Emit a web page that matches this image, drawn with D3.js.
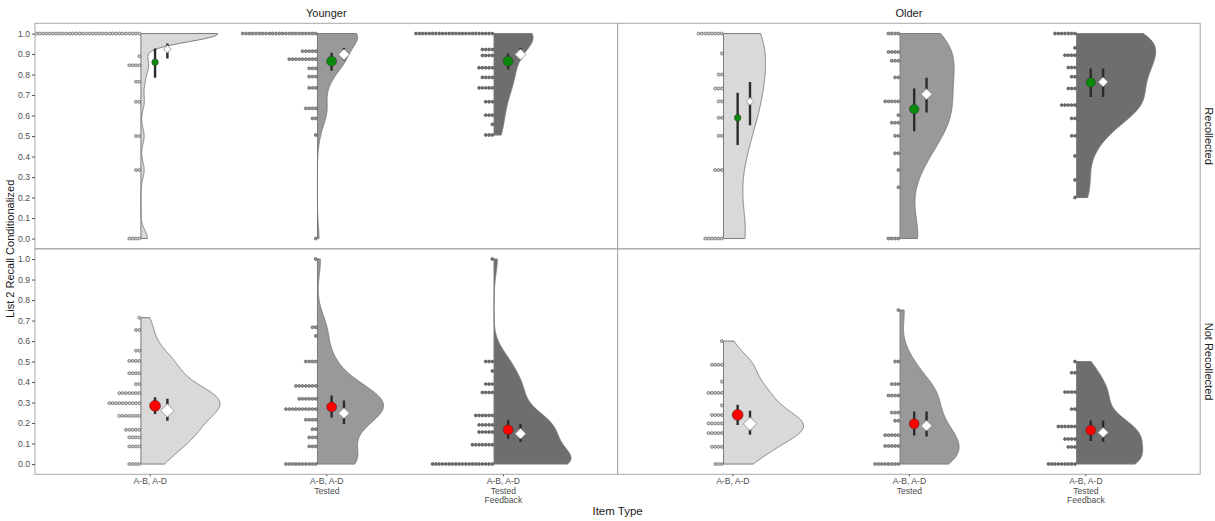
<!DOCTYPE html>
<html>
<head>
<meta charset="utf-8">
<script src="https://cdn.jsdelivr.net/npm/d3@7"></script>
<style>
  body { margin: 0; background: #fff; }
  svg { display: block; }
  text { font-family: "Liberation Sans", Arial, sans-serif; }
</style>
</head>
<body>
<svg id="chart" width="1215" height="521"></svg>
<script>
// ---- Facets and categories ----
const categories = ["A-B, A-D", "A-B, A-D\nTested", "A-B, A-D\nTested\nFeedback"];
const ageGroups = ["Younger", "Older"];
const recallStates = ["Recollected", "Not Recollected"];
const yTicks = [0, 0.1, 0.2, 0.3, 0.4, 0.5, 0.6, 0.7, 0.8, 0.9, 1.0];

// ---- Per-participant scores: [score, number of participants] ----
const youngerRecAB       = [[1.0, 48], [0.889, 1], [0.845, 4], [0.765, 2], [0.667, 2], [0.5, 2], [0.334, 2], [0, 4]];
const youngerRecTested   = [[1.0, 23], [0.914, 5], [0.875, 9], [0.83, 3], [0.79, 3], [0.735, 3], [0.635, 4], [0.586, 2], [0.505, 1], [0, 1]];
const youngerRecFeedback = [[1.0, 24], [0.922, 4], [0.893, 4], [0.833, 5], [0.786, 4], [0.735, 5], [0.667, 3], [0.602, 3], [0.557, 1], [0.505, 3]];

const olderRecAB         = [[1.0, 8], [0.903, 1], [0.8, 2], [0.732, 3], [0.669, 2], [0.589, 2], [0.501, 2], [0.334, 3], [0, 6]];
const olderRecTested     = [[1.0, 4], [0.91, 4], [0.867, 3], [0.786, 2], [0.669, 5], [0.602, 1], [0.565, 3], [0.501, 2], [0.416, 2], [0.334, 1], [0.25, 1], [0, 4]];
const olderRecFeedback   = [[1.0, 7], [0.93, 1], [0.894, 4], [0.834, 3], [0.789, 2], [0.732, 3], [0.651, 5], [0.586, 2], [0.501, 2], [0.403, 1], [0.286, 1], [0.2, 1]];

const youngerNotAB       = [[0.714, 1], [0.654, 2], [0.553, 2], [0.503, 4], [0.443, 4], [0.39, 2], [0.346, 7], [0.297, 10], [0.235, 7], [0.167, 5], [0.13, 4], [0.086, 4], [0, 4]];
const youngerNotTested   = [[1.0, 1], [0.667, 2], [0.625, 1], [0.5, 4], [0.381, 7], [0.318, 6], [0.268, 10], [0.216, 4], [0.17, 2], [0.13, 3], [0.086, 3], [0, 10]];
const youngerNotFeedback = [[1.0, 1], [0.5, 3], [0.454, 1], [0.39, 3], [0.349, 4], [0.237, 6], [0.191, 5], [0.156, 5], [0.094, 7], [0, 19]];

const olderNotAB         = [[0.6, 1], [0.484, 4], [0.402, 1], [0.347, 5], [0.286, 1], [0.239, 4], [0.198, 5], [0.151, 5], [0.084, 4], [0, 3]];
const olderNotTested     = [[0.751, 1], [0.5, 2], [0.39, 3], [0.334, 4], [0.251, 3], [0.211, 2], [0.141, 5], [0.088, 5], [0, 8]];
const olderNotFeedback   = [[0.5, 1], [0.445, 2], [0.351, 4], [0.268, 2], [0.183, 6], [0.122, 4], [0.083, 3], [0, 9]];

// ---- Condition means [estimate, lower, upper] (filled circles) ----
const youngerRecMean = [[0.86, 0.784, 0.927], [0.865, 0.818, 0.906], [0.865, 0.825, 0.903]];
const olderRecMean   = [[0.589, 0.456, 0.711], [0.631, 0.524, 0.732], [0.761, 0.691, 0.83]];
const youngerNotMean = [[0.284, 0.244, 0.326], [0.278, 0.227, 0.334], [0.167, 0.123, 0.216]];
const olderNotMean   = [[0.24, 0.191, 0.289], [0.196, 0.139, 0.256], [0.165, 0.113, 0.212]];

// ---- Model estimates [estimate, lower, upper] (white diamonds) ----
const youngerRecModel = [[0.924, 0.878, 0.951], [0.898, 0.87, 0.93], [0.898, 0.87, 0.93]];
const olderRecModel   = [[0.669, 0.553, 0.764], [0.704, 0.615, 0.784], [0.764, 0.69, 0.83]];
const youngerNotModel = [[0.261, 0.211, 0.318], [0.248, 0.195, 0.31], [0.148, 0.107, 0.195]];
const olderNotModel   = [[0.196, 0.143, 0.26], [0.187, 0.134, 0.256], [0.154, 0.107, 0.212]];

// ---- Styling ----
const fills = ["#d9d9d9", "#999999", "#6e6e6e"];
const meanColor = { "Recollected": "#0a8a0a", "Not Recollected": "#ff0000" };
const bwAdjust = [[1.25, 1, 1.15], [1, 1, 1], [1, 1, 1], [1, 1, 1]];
// widest point of each half-violin, as a fraction of the category step
const peakWidth = [[0.436, 0.227, 0.221], [0.238, 0.306, 0.448], [0.448, 0.374, 0.436], [0.453, 0.334, 0.374]];
const meanRadius  = [[3.3, 5, 5], [3.3, 4.8, 4.7], [5.5, 5, 5], [5.5, 5, 5]];
const modelRadius = [[3.9, 5.5, 5.5], [3.8, 5.4, 4.8], [6.7, 5.4, 5.4], [6.7, 5.4, 5.1]];

// facet table built from the arrays above (row = recall state, col = age group)
const facets = [
  { row: 0, col: 0, groups: [youngerRecAB, youngerRecTested, youngerRecFeedback], mean: youngerRecMean, model: youngerRecModel },
  { row: 0, col: 1, groups: [olderRecAB, olderRecTested, olderRecFeedback], mean: olderRecMean, model: olderRecModel },
  { row: 1, col: 0, groups: [youngerNotAB, youngerNotTested, youngerNotFeedback], mean: youngerNotMean, model: youngerNotModel },
  { row: 1, col: 1, groups: [olderNotAB, olderNotTested, olderNotFeedback], mean: olderNotMean, model: olderNotModel }
];

// ---- Layout ----
const svg = d3.select("#chart");
const plotLeft = 35, plotTop = 23.3, panelW = 582.6, panelH = 225.5;
const frameColor = "#a8a8a8";
const textColor = "#4d4d4d";

const expand = (arr) => arr.flatMap(([v, n]) => d3.range(n).map(() => v));

function bwNrd0(x) {
  const s = d3.deviation(x);
  const sorted = x.slice().sort(d3.ascending);
  const iqr = d3.quantileSorted(sorted, 0.75) - d3.quantileSorted(sorted, 0.25);
  let lo = Math.min(s, iqr / 1.34);
  if (!lo) lo = s || Math.abs(sorted[0]) || 1;
  return 0.9 * lo * Math.pow(x.length, -0.2);
}

// gaussian kernel density, trimmed to the range of the data
function kde(values, bw) {
  const lo = d3.min(values), hi = d3.max(values);
  const k = 1 / (values.length * bw * Math.sqrt(2 * Math.PI));
  return d3.range(512).map(i => {
    const v = lo + (hi - lo) * i / 511;
    return { v, d: k * d3.sum(values, xi => Math.exp(-0.5 * ((v - xi) / bw) ** 2)) };
  });
}

facets.forEach((f, fi) => {
  const x0 = plotLeft + f.col * panelW;
  const y0 = plotTop + f.row * panelH;
  const x = d3.scalePoint().domain(d3.range(categories.length)).range([x0, x0 + panelW]).padding(0.65);
  const y = d3.scaleLinear().domain([-0.05, 1.05]).range([y0 + panelH, y0]);
  const step = x.step();

  svg.append("clipPath").attr("id", "clip" + fi)
    .append("rect").attr("x", x0).attr("y", y0).attr("width", panelW).attr("height", panelH);

  const g = svg.append("g").attr("clip-path", `url(#clip${fi})`);

  // half-violins
  f.groups.forEach((grp, gi) => {
    const vals = expand(grp);
    const dd = kde(vals, bwNrd0(vals) * bwAdjust[fi][gi]);
    const w = d3.scaleLinear().domain([0, d3.max(dd, p => p.d)]).range([0, peakWidth[fi][gi] * step]);
    const base = x(gi) - 0.05 * step;
    const pts = [[base, y(dd[0].v)], ...dd.map(p => [base + w(p.d), y(p.v)]), [base, y(dd[dd.length - 1].v)]];
    g.append("path")
      .attr("d", d3.line()(pts) + "Z")
      .attr("fill", fills[gi])
      .attr("stroke", "#7a7a7a")
      .attr("stroke-width", 1)
      .attr("stroke-linejoin", "round");
  });

  // stacked dots to the left of each half-violin
  const dotD = y(0) - y(0.0162);
  f.groups.forEach((grp, gi) => {
    const base = x(gi) - 0.05 * step;
    const dots = grp.flatMap(([v, n]) => d3.range(n).map(i => ({ v, i })));
    g.selectAll(null).data(dots).join("circle")
      .attr("cx", d => base - (d.i + 0.5) * dotD)
      .attr("cy", d => y(d.v))
      .attr("r", dotD / 2 - 0.2)
      .attr("fill", fills[gi])
      .attr("stroke", "#555")
      .attr("stroke-width", 0.7);
  });

  // interval bars, means and model estimates
  categories.forEach((c, gi) => {
    const mx = x(gi) + 0.03 * step;
    const dx = x(gi) + 0.1 * step;
    const m = f.mean[gi], e = f.model[gi];
    g.append("line").attr("x1", mx).attr("x2", mx).attr("y1", y(m[1])).attr("y2", y(m[2]))
      .attr("stroke", "#2b2b2b").attr("stroke-width", 2.4);
    g.append("line").attr("x1", dx).attr("x2", dx).attr("y1", y(e[1])).attr("y2", y(e[2]))
      .attr("stroke", "#2b2b2b").attr("stroke-width", 2.4);
    g.append("circle").attr("cx", mx).attr("cy", y(m[0])).attr("r", meanRadius[fi][gi])
      .attr("fill", meanColor[recallStates[f.row]]).attr("stroke", "#333").attr("stroke-width", 0.5);
    const r = modelRadius[fi][gi], cy = y(e[0]);
    g.append("path")
      .attr("d", `M${dx},${cy - r}L${dx + r},${cy}L${dx},${cy + r}L${dx - r},${cy}Z`)
      .attr("fill", "#fff").attr("stroke", "#8a8a8a").attr("stroke-width", 0.8);
  });

  // panel border
  svg.append("rect").attr("x", x0).attr("y", y0).attr("width", panelW).attr("height", panelH)
    .attr("fill", "none").attr("stroke", frameColor).attr("stroke-width", 1);

  // y axis on the left column
  if (f.col === 0) {
    const ax = svg.append("g").attr("transform", `translate(${x0},0)`)
      .call(d3.axisLeft(y).tickValues(yTicks).tickFormat(d3.format(".1f")).tickSize(3).tickPadding(2));
    ax.select(".domain").remove();
    ax.selectAll("line").attr("stroke", "#555");
    ax.selectAll("text").attr("font-size", 8.6).attr("fill", textColor)
      .attr("font-family", "'Liberation Sans', Arial, sans-serif");
  }

  // x axis on the bottom row
  if (f.row === 1) {
    const ax = svg.append("g").attr("transform", `translate(0,${y0 + panelH})`)
      .call(d3.axisBottom(x).tickSize(2).tickFormat(() => ""));
    ax.select(".domain").remove();
    ax.selectAll("line").attr("stroke", "#555");
    ax.selectAll(".tick").each(function (d) {
      const t = d3.select(this).append("text")
        .attr("fill", textColor).attr("font-size", 8.6).attr("text-anchor", "middle")
        .attr("font-family", "'Liberation Sans', Arial, sans-serif");
      categories[d].split("\n").forEach((line, li) => {
        t.append("tspan").attr("x", 0).attr("y", 10 + li * 9.3).text(line);
      });
    });
  }

  // facet strips
  if (f.row === 0) {
    svg.append("text").attr("x", x0 + panelW / 2).attr("y", 17)
      .attr("text-anchor", "middle").attr("font-size", 11).attr("fill", "#1a1a1a")
      .text(ageGroups[f.col]);
  }
  if (f.col === 1) {
    svg.append("text")
      .attr("transform", `translate(${x0 + panelW + 4.5},${y0 + panelH / 2}) rotate(90)`)
      .attr("text-anchor", "middle").attr("font-size", 11).attr("fill", "#1a1a1a")
      .text(recallStates[f.row]);
  }
});

// axis titles
svg.append("text")
  .attr("transform", `translate(14,${plotTop + panelH}) rotate(-90)`)
  .attr("text-anchor", "middle").attr("font-size", 11).attr("fill", "#1a1a1a")
  .text("List 2 Recall Conditionalized");
svg.append("text")
  .attr("x", plotLeft + panelW).attr("y", 515)
  .attr("text-anchor", "middle").attr("font-size", 11.5).attr("fill", "#1a1a1a")
  .text("Item Type");
</script>
</body>
</html>
